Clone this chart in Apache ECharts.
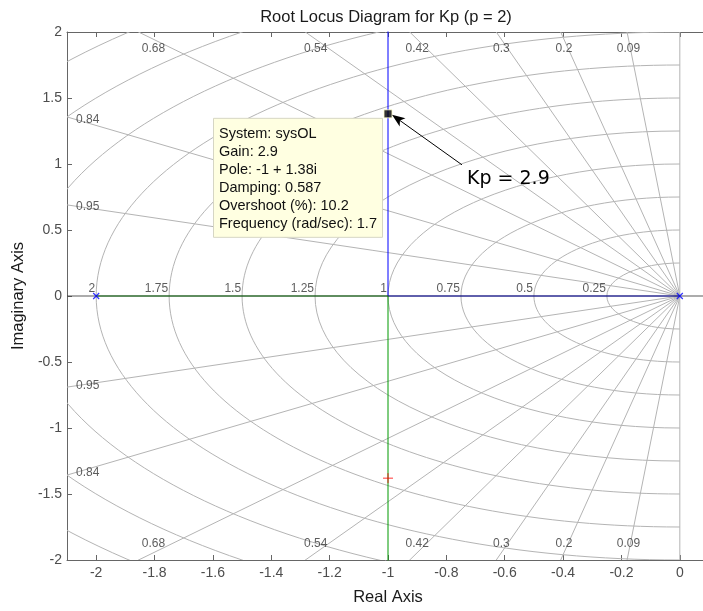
<!DOCTYPE html>
<html><head><meta charset="utf-8">
<script src="https://cdn.jsdelivr.net/npm/echarts@6/dist/echarts.min.js"></script>
<style>html,body{margin:0;padding:0;background:#fff}#c{width:703px;height:611px}</style>
</head><body><div id="c"></div>
<script>
// ---- data ----
const xTicks = [-2, -1.8, -1.6, -1.4, -1.2, -1, -0.8, -0.6, -0.4, -0.2, 0];
const yTicks = [-2, -1.5, -1, -0.5, 0, 0.5, 1, 1.5, 2];
const openLoopPoles = [[-2, 0], [0, 0]];
const branchBlue = [[0, 0], [-1, 0], [-1, 3]];
const branchGreen = [[-2, 0], [-1, 0], [-1, -3]];
const selectedPole = [-1, 1.38];
const conjugatePole = [-1, -1.38];
const dampingValues = [0.95, 0.84, 0.68, 0.54, 0.42, 0.3, 0.2, 0.09];
const dampingTopLabels = ['0.68', '0.54', '0.42', '0.3', '0.2', '0.09'];
const dampingSideLabels = ['0.95', '0.84'];
const freqValues = [0.25, 0.5, 0.75, 1, 1.25, 1.5, 1.75, 2, 2.25, 2.5, 2.75];
const freqLabels = ['2', '1.75', '1.5', '1.25', '1', '0.75', '0.5', '0.25'];
const datatipLines = ['System: sysOL', 'Gain: 2.9', 'Pole: -1 + 1.38i', 'Damping: 0.587', 'Overshoot (%): 10.2', 'Frequency (rad/sec): 1.7'];
const annotationText = 'Kp = 2.9';
const titleText = 'Root Locus Diagram for Kp (p = 2)';

const FONT = 'Liberation Sans, Arial, Helvetica, sans-serif';
const AX = '#666666';
const GRID = '#b4b4b4';

const chart = echarts.init(document.getElementById('c'), null, {renderer: 'canvas'});

const labelTopY = 1.945;
const labelSideX = -2.069;
const topLabelData = [];
dampingTopLabels.forEach(s => {
  const z = +s; const k = Math.sqrt(1 - z * z);
  topLabelData.push({value: [-labelTopY * z / k, labelTopY, s], label: {offset: [0, 9]}});
  topLabelData.push({value: [-labelTopY * z / k, -labelTopY, s], label: {offset: [0, -9]}});
});
const sideLabelData = [];
dampingSideLabels.forEach(s => {
  const z = +s; const k = Math.sqrt(1 - z * z);
  sideLabelData.push([labelSideX, -labelSideX * k / z, s]);
  sideLabelData.push([labelSideX, labelSideX * k / z, s]);
});
const freqLabelData = freqLabels.map(s => [-(+s), 0, s]);

const option = {
  animation: false,
  backgroundColor: '#ffffff',
  grid: {left: 67, top: 32, right: -6, bottom: 51, containLabel: false, outerBoundsMode: 'none'},
  xAxis: [{
    type: 'value', position: 'bottom', min: -2.1, max: 0.1,
    axisLine: {show: true, onZero: false, lineStyle: {color: AX, width: 1}},
    axisTick: {show: true, inside: true, length: 5, customValues: xTicks, lineStyle: {color: AX}},
    axisLabel: {show: true, customValues: xTicks, fontSize: 14, color: '#4d4d4d', margin: 6, fontFamily: FONT,
      formatter: v => String(Math.round(v * 10) / 10)},
    splitLine: {show: false},
    name: 'Real Axis', nameLocation: 'middle', nameGap: 29,
    nameTextStyle: {fontSize: 16.5, color: '#1a1a1a', fontFamily: FONT}
  }, {
    type: 'value', position: 'top', min: -2.1, max: 0.1,
    axisLine: {show: true, onZero: false, lineStyle: {color: AX, width: 1}},
    axisTick: {show: true, inside: true, length: 5, customValues: xTicks, lineStyle: {color: AX}},
    axisLabel: {show: false},
    splitLine: {show: false}
  }],
  yAxis: [{
    type: 'value', position: 'left', min: -2, max: 2, interval: 0.5,
    axisLine: {show: true, onZero: false, lineStyle: {color: AX, width: 1}},
    axisTick: {show: true, inside: true, length: 5, lineStyle: {color: AX}},
    axisLabel: {show: true, fontSize: 14, color: '#4d4d4d', margin: 5, fontFamily: FONT,
      formatter: v => String(v)},
    splitLine: {show: false},
    name: 'Imaginary Axis', nameLocation: 'middle', nameGap: 39,
    nameTextStyle: {fontSize: 16.5, color: '#1a1a1a', fontFamily: FONT}
  }, {
    type: 'value', position: 'right', min: -2, max: 2, interval: 0.5,
    axisLine: {show: true, onZero: false, lineStyle: {color: AX, width: 1}},
    axisTick: {show: true, inside: true, length: 5, lineStyle: {color: AX}},
    axisLabel: {show: false},
    splitLine: {show: false}
  }],
  series: [
    // natural-frequency circles (left half), drawn through the axis scales
    {
      type: 'custom', clip: true, silent: true, z: 1,
      encode: {x: 0, y: 1},
      data: freqValues.map(v => [0, 0, v]),
      renderItem: (params, api) => {
        const r = api.value(2);
        const c = api.coord([0, 0]);
        const s = api.size([r, r]);
        const rx = s[0], ry = s[1], k = 0.5523;
        const st = {stroke: GRID, fill: null, lineWidth: 1};
        return {type: 'group', children: [
          {type: 'bezierCurve', shape: {x1: c[0], y1: c[1] - ry, cpx1: c[0] - k * rx, cpy1: c[1] - ry,
            cpx2: c[0] - rx, cpy2: c[1] - k * ry, x2: c[0] - rx, y2: c[1]}, style: st},
          {type: 'bezierCurve', shape: {x1: c[0] - rx, y1: c[1], cpx1: c[0] - rx, cpy1: c[1] + k * ry,
            cpx2: c[0] - k * rx, cpy2: c[1] + ry, x2: c[0], y2: c[1] + ry}, style: st}
        ]};
      }
    },
    // damping rays
    {
      type: 'custom', clip: true, silent: true, z: 1,
      encode: {x: 0, y: 1},
      data: dampingValues.map(z => [0, 0, z]),
      renderItem: (params, api) => {
        const z = api.value(2);
        const w = Math.sqrt(1 - z * z);
        const c = api.coord([0, 0]);
        const pu = api.coord([-4 * z, 4 * w]);
        const pl = api.coord([-4 * z, -4 * w]);
        const st = {stroke: GRID, lineWidth: 1};
        return {type: 'group', children: [
          {type: 'line', shape: {x1: c[0], y1: c[1], x2: pu[0], y2: pu[1]}, style: st},
          {type: 'line', shape: {x1: c[0], y1: c[1], x2: pl[0], y2: pl[1]}, style: st}
        ]};
      }
    },
    // imaginary axis grid line
    {type: 'line', data: [[0, -2], [0, 2]], symbol: 'none', silent: true, z: 1,
      lineStyle: {color: GRID, width: 1}},
    // locus branches
    {type: 'line', data: branchBlue, symbol: 'none', z: 3, lineStyle: {color: '#0000ff', width: 1}},
    {type: 'line', data: branchGreen, symbol: 'none', z: 3, lineStyle: {color: '#009900', width: 1}},
    // real axis line
    {type: 'line', data: [[-2.1, 0], [0.1, 0]], symbol: 'none', silent: true, z: 4,
      lineStyle: {color: '#303030', width: 1, opacity: 0.8}},
    // open loop poles
    {type: 'scatter', data: openLoopPoles, z: 5, symbol: 'path://M0 0L10 10M10 0L0 10', symbolSize: 6,
      itemStyle: {color: 'rgba(0,0,0,0)', borderColor: '#0000ff', borderWidth: 1.2}},
    // closed loop pole marker
    {type: 'scatter', data: [conjugatePole], z: 5, symbol: 'path://M5 0L5 10M0 5L10 5', symbolSize: 10,
      itemStyle: {color: 'rgba(0,0,0,0)', borderColor: '#ff0000', borderWidth: 1}},
    // datatip marker
    {type: 'scatter', data: [selectedPole], z: 6, symbol: 'rect', symbolSize: 8,
      itemStyle: {color: '#000000', borderColor: '#ffffcc', borderWidth: 1}},
    // damping labels
    {type: 'scatter', data: topLabelData, symbolSize: 0, silent: true, z: 2,
      label: {show: true, position: 'inside', formatter: p => p.value[2], fontSize: 12, color: '#333', fontFamily: FONT}},
    {type: 'scatter', data: sideLabelData, symbolSize: 0, silent: true, z: 2,
      label: {show: true, position: 'right', distance: 0, formatter: p => p.value[2], fontSize: 12, color: '#333', fontFamily: FONT}},
    // frequency labels
    {type: 'scatter', data: freqLabelData, symbolSize: 0, silent: true, z: 2,
      label: {show: true, position: 'inside', align: 'right', verticalAlign: 'bottom', offset: [-1, -1],
        formatter: p => p.value[2], fontSize: 12, color: '#333', fontFamily: FONT}}
  ]
};
chart.setOption(option);

// annotations anchored on the selected pole
const p = chart.convertToPixel({gridIndex: 0}, selectedPole);
const lft = chart.convertToPixel({gridIndex: 0}, [-2.1, 0])[0];
const rgt = chart.convertToPixel({gridIndex: 0}, [0.1, 0])[0];
const mx = p[0], my = p[1];
const boxL = mx - 175, boxT = my + 4, boxW = 169, boxH = 119;
const g = [];
g.push({type: 'text', x: (lft + rgt) / 2 - 2, y: 17, z: 10,
  style: {text: titleText, fontSize: 16.5, fontFamily: FONT, fill: '#1a1a1a', textAlign: 'center', textVerticalAlign: 'middle'}});
g.push({type: 'rect', shape: {x: boxL + 0.5, y: boxT + 0.5, width: boxW, height: boxH}, z: 10,
  style: {fill: '#ffffe1', stroke: '#d6d6c4', lineWidth: 1}});
datatipLines.forEach((t, i) => {
  g.push({type: 'text', x: boxL + 6, y: boxT + 16 + i * 18, z: 11,
    style: {text: t, fontSize: 14.5, fontFamily: FONT, fill: '#111', textAlign: 'left', textVerticalAlign: 'middle'}});
});
// arrow
const tip = [mx + 4, my + 1], tail = [mx + 74, my + 51];
const dx = tail[0] - tip[0], dy = tail[1] - tip[1], L = Math.hypot(dx, dy);
const ux = dx / L, uy = dy / L, px = -uy, py = ux;
const hl = 13, hw = 5;
g.push({type: 'line', shape: {x1: tip[0] + ux * 8, y1: tip[1] + uy * 8, x2: tail[0], y2: tail[1]}, z: 12,
  style: {stroke: '#000', lineWidth: 1}});
g.push({type: 'polygon', z: 12, shape: {points: [tip,
  [tip[0] + ux * hl + px * hw, tip[1] + uy * hl + py * hw],
  [tip[0] + ux * hl * 0.75, tip[1] + uy * hl * 0.75],
  [tip[0] + ux * hl - px * hw, tip[1] + uy * hl - py * hw]]}, style: {fill: '#000'}});
g.push({type: 'text', x: mx + 79, y: my + 65, z: 12,
  style: {text: annotationText, fontSize: 19, fontFamily: 'DejaVu Sans, sans-serif', fill: '#000', textAlign: 'left', textVerticalAlign: 'middle'}});
chart.setOption({graphic: g});
</script></body></html>
